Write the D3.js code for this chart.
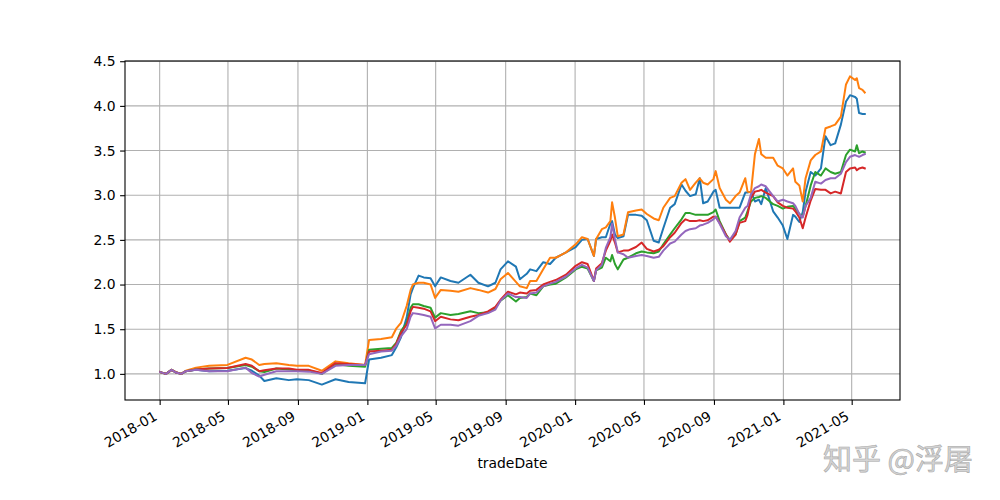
<!DOCTYPE html>
<html>
<head>
<meta charset="utf-8">
<script src="https://cdn.jsdelivr.net/npm/d3@7/dist/d3.min.js"></script>
<style>
  html, body { margin: 0; padding: 0; background: #fff; }
  svg { display: block; }
</style>
</head>
<body>
<svg id="chart" width="1000" height="500"></svg>
<script>
const dates = [
"2018-01-02","2018-01-12","2018-01-22","2018-01-30","2018-02-08","2018-02-16","2018-03-06","2018-03-29","2018-04-30","2018-06-01",
"2018-06-12","2018-06-25","2018-07-04","2018-07-25","2018-08-16","2018-08-30","2018-09-20","2018-10-13","2018-11-06","2018-11-29",
"2018-12-28","2019-01-04","2019-01-25","2019-02-13","2019-02-21","2019-03-01","2019-03-11","2019-03-18","2019-03-22","2019-04-01",
"2019-04-10","2019-04-22","2019-04-30","2019-05-10","2019-05-27","2019-06-10","2019-07-01","2019-07-15","2019-08-01","2019-08-14",
"2019-08-23","2019-09-05","2019-09-19","2019-09-26","2019-10-08","2019-10-14","2019-10-25","2019-11-06","2019-11-18","2019-11-28",
"2019-12-16","2020-01-02","2020-01-13","2020-01-23","2020-02-03","2020-02-07","2020-02-17","2020-02-24","2020-03-03","2020-03-06",
"2020-03-11","2020-03-16","2020-03-26","2020-04-03","2020-04-17","2020-04-27","2020-05-06","2020-05-18","2020-05-27","2020-06-04",
"2020-06-16","2020-06-24","2020-07-06","2020-07-13","2020-07-21","2020-07-31","2020-08-07","2020-08-13","2020-08-21","2020-08-31",
"2020-09-04","2020-09-11","2020-09-22","2020-09-29","2020-10-09","2020-10-16","2020-10-26","2020-10-30","2020-11-05","2020-11-12",
"2020-11-19","2020-11-23","2020-12-01","2020-12-14","2020-12-22","2020-12-31","2021-01-08","2021-01-18","2021-01-22","2021-01-29",
"2021-02-04","2021-02-09","2021-02-18","2021-02-26","2021-03-08","2021-03-16","2021-03-25","2021-04-02","2021-04-12","2021-04-21",
"2021-04-28","2021-05-07","2021-05-10","2021-05-14","2021-05-20","2021-05-24"
];

const seriesBlue = [
1.02,1.00,1.045,1.015,1.00,1.03,1.045,1.03,1.035,1.065,
1.035,0.98,0.92,0.95,0.93,0.94,0.93,0.88,0.94,0.91,
0.895,1.16,1.18,1.21,1.30,1.41,1.63,1.89,1.96,2.10,
2.08,2.07,1.98,2.08,2.04,2.02,2.11,2.02,1.98,2.02,
2.17,2.26,2.20,2.06,2.12,2.17,2.15,2.25,2.23,2.30,
2.36,2.42,2.50,2.51,2.32,2.51,2.53,2.53,2.68,2.71,
2.56,2.52,2.54,2.78,2.78,2.77,2.72,2.49,2.47,2.63,
2.86,2.90,3.12,3.05,2.99,3.01,3.19,2.91,2.93,3.04,
3.06,2.86,2.86,2.86,2.86,2.86,3.03,3.03,3.04,2.93,
2.95,2.90,3.08,2.82,2.75,2.66,2.51,2.78,2.76,2.70,
2.81,3.04,3.26,3.22,3.30,3.66,3.56,3.58,3.79,4.05,
4.12,4.10,4.08,3.92,3.91,3.91
];

const seriesOrange = [
1.02,1.00,1.045,1.02,1.00,1.035,1.07,1.09,1.10,1.18,
1.16,1.10,1.11,1.12,1.10,1.09,1.09,1.035,1.14,1.12,
1.10,1.38,1.39,1.41,1.51,1.57,1.76,1.94,2.00,2.02,
2.02,2.00,1.85,1.94,1.93,1.92,1.96,1.94,1.91,1.95,
2.06,2.13,2.03,1.98,1.96,2.04,2.04,2.17,2.30,2.30,
2.36,2.45,2.53,2.51,2.32,2.51,2.62,2.64,2.71,2.92,
2.75,2.54,2.56,2.81,2.83,2.84,2.79,2.74,2.72,2.86,
2.97,2.99,3.14,3.18,3.06,3.14,3.19,3.14,3.12,3.18,
3.27,3.08,2.95,2.91,2.99,3.03,3.19,3.04,3.03,3.46,
3.63,3.46,3.42,3.42,3.33,3.30,3.22,3.30,3.15,3.11,
2.93,3.19,3.39,3.45,3.49,3.75,3.77,3.79,3.88,4.24,
4.33,4.29,4.31,4.20,4.18,4.15
];

const seriesGreen = [
1.02,1.00,1.045,1.015,1.00,1.03,1.05,1.06,1.065,1.10,
1.08,1.03,1.02,1.06,1.05,1.04,1.04,1.00,1.11,1.09,
1.08,1.27,1.28,1.29,1.35,1.48,1.57,1.74,1.78,1.78,
1.76,1.74,1.63,1.68,1.66,1.67,1.70,1.68,1.69,1.74,
1.82,1.88,1.81,1.85,1.86,1.90,1.88,1.98,2.00,2.01,
2.08,2.17,2.20,2.18,2.04,2.16,2.19,2.30,2.26,2.33,
2.23,2.17,2.28,2.30,2.35,2.37,2.36,2.35,2.37,2.45,
2.56,2.63,2.73,2.80,2.80,2.78,2.78,2.78,2.78,2.81,
2.84,2.71,2.56,2.50,2.56,2.71,2.75,2.82,2.93,2.97,
2.98,2.99,2.97,2.90,2.88,2.85,2.87,2.88,2.85,2.79,
2.76,2.88,3.11,3.26,3.22,3.30,3.26,3.24,3.26,3.45,
3.51,3.49,3.56,3.47,3.49,3.48
];

const seriesRed = [
1.02,1.00,1.045,1.015,1.00,1.03,1.05,1.06,1.065,1.11,
1.09,1.03,1.04,1.06,1.06,1.045,1.045,1.01,1.12,1.11,
1.10,1.25,1.26,1.27,1.34,1.46,1.55,1.70,1.75,1.74,
1.73,1.70,1.59,1.64,1.61,1.60,1.64,1.66,1.70,1.75,
1.83,1.92,1.89,1.91,1.90,1.93,1.94,2.00,2.03,2.05,
2.11,2.21,2.25,2.23,2.04,2.18,2.24,2.38,2.49,2.56,
2.47,2.36,2.38,2.38,2.42,2.47,2.40,2.37,2.39,2.43,
2.53,2.58,2.69,2.73,2.71,2.71,2.72,2.71,2.72,2.76,
2.76,2.69,2.56,2.48,2.56,2.69,2.71,2.78,2.97,3.04,
3.05,3.06,3.03,2.99,2.92,2.88,2.86,2.85,2.82,2.75,
2.63,2.75,2.94,3.07,3.06,3.06,3.02,3.04,3.02,3.26,
3.30,3.31,3.28,3.30,3.31,3.30
];

const seriesPurple = [
1.02,1.00,1.045,1.015,1.00,1.03,1.045,1.03,1.03,1.07,
1.01,0.97,0.99,1.03,1.03,1.03,1.025,1.00,1.09,1.10,
1.10,1.22,1.25,1.26,1.32,1.42,1.50,1.64,1.68,1.67,
1.66,1.64,1.51,1.55,1.55,1.54,1.59,1.65,1.68,1.72,
1.82,1.90,1.86,1.86,1.85,1.90,1.91,1.98,2.01,2.03,
2.09,2.18,2.22,2.19,2.04,2.16,2.22,2.41,2.53,2.68,
2.51,2.36,2.34,2.30,2.32,2.33,2.32,2.30,2.31,2.38,
2.46,2.48,2.56,2.60,2.62,2.63,2.66,2.67,2.69,2.73,
2.76,2.68,2.54,2.50,2.60,2.75,2.86,2.88,3.01,3.08,
3.10,3.12,3.10,2.99,2.93,2.95,2.93,2.91,2.88,2.79,
2.75,2.88,2.97,3.15,3.13,3.17,3.19,3.19,3.24,3.37,
3.43,3.45,3.44,3.43,3.45,3.46
];

const seriesList = [seriesBlue, seriesOrange, seriesGreen, seriesRed, seriesPurple];
const colors = ["#1f77b4", "#ff7f0e", "#2ca02c", "#d62728", "#9467bd"];
const yTickValues = [1.0, 1.5, 2.0, 2.5, 3.0, 3.5, 4.0, 4.5];
const xTickLabels = ["2018-01","2018-05","2018-09","2019-01","2019-05","2019-09","2020-01","2020-05","2020-09","2021-01","2021-05"];
const xLabel = "tradeDate";
const watermark = "知乎 @浮屠";

const parse = d3.utcParse("%Y-%m-%d");
const parseMonth = d3.utcParse("%Y-%m");
const dateObjs = dates.map(parse);

const margin = { left: 125, right: 100, top: 61, bottom: 100 };
const W = 1000, H = 500;
const iw = W - margin.left - margin.right;
const ih = H - margin.top - margin.bottom;

const svg = d3.select("#chart");
svg.append("rect").attr("width", W).attr("height", H).attr("fill", "#fff");

// matplotlib-like 5% margins
const [xmin, xmax] = d3.extent(dateObjs).map(d => +d);
const xpad = (xmax - xmin) * 0.05;
const allVals = seriesList.flat();
const [ymin, ymax] = d3.extent(allVals);
const ypad = (ymax - ymin) * 0.05;

const x = d3.scaleUtc()
  .domain([new Date(xmin - xpad), new Date(xmax + xpad)])
  .range([margin.left, margin.left + iw]);
const y = d3.scaleLinear()
  .domain([ymin - ypad, ymax + ypad])
  .range([margin.top + ih, margin.top]);

const fontFamily = "'DejaVu Sans', sans-serif";
const fs = 13.9;

const xTicks = xTickLabels.map(parseMonth);

// grid
const grid = svg.append("g");
grid.selectAll(".gx").data(xTicks).enter().append("line")
  .attr("x1", d => x(d)).attr("x2", d => x(d))
  .attr("y1", margin.top).attr("y2", margin.top + ih)
  .attr("stroke", "#b0b0b0").attr("stroke-width", 1.1);
grid.selectAll(".gy").data(yTickValues).enter().append("line")
  .attr("x1", margin.left).attr("x2", margin.left + iw)
  .attr("y1", d => y(d)).attr("y2", d => y(d))
  .attr("stroke", "#b0b0b0").attr("stroke-width", 1.1);

// lines
const clipId = "plotclip";
svg.append("clipPath").attr("id", clipId).append("rect")
  .attr("x", margin.left).attr("y", margin.top).attr("width", iw).attr("height", ih);

const line = d3.line()
  .x((d, i) => x(dateObjs[i]))
  .y(d => y(d));

const lg = svg.append("g").attr("clip-path", `url(#${clipId})`);
seriesList.forEach((s, k) => {
  lg.append("path")
    .attr("d", line(s))
    .attr("fill", "none")
    .attr("stroke", colors[k])
    .attr("stroke-width", 2)
    .attr("stroke-linejoin", "round")
    .attr("stroke-linecap", "square");
});

// spines
svg.append("rect")
  .attr("x", margin.left).attr("y", margin.top)
  .attr("width", iw).attr("height", ih)
  .attr("fill", "none").attr("stroke", "#000").attr("stroke-width", 1.1);

// y axis
const yAxis = d3.axisLeft(y).tickValues(yTickValues).tickFormat(d3.format(".1f"))
  .tickSize(4.9).tickPadding(4.5);
const yg = svg.append("g").attr("transform", `translate(${margin.left},0)`).call(yAxis);
yg.select(".domain").remove();
yg.selectAll(".tick line").attr("stroke", "#000").attr("stroke-width", 1.1);
yg.selectAll(".tick text").attr("font-family", fontFamily).attr("font-size", fs).attr("fill", "#000");

// x axis
const xAxis = d3.axisBottom(x).tickValues(xTicks).tickFormat(d3.utcFormat("%Y-%m"))
  .tickSize(4.9);
const xg = svg.append("g").attr("transform", `translate(0,${margin.top + ih})`).call(xAxis);
xg.select(".domain").remove();
xg.selectAll(".tick line").attr("stroke", "#000").attr("stroke-width", 1.1);
xg.selectAll(".tick text")
  .attr("font-family", fontFamily).attr("font-size", fs).attr("fill", "#000")
  .attr("text-anchor", "end")
  .attr("dy", null)
  .attr("y", 0)
  .attr("transform", "translate(-2,19) rotate(-30)");

// x label
svg.append("text")
  .attr("x", margin.left + iw / 2).attr("y", 468)
  .attr("text-anchor", "middle")
  .attr("font-family", fontFamily).attr("font-size", fs).attr("fill", "#000")
  .text(xLabel);

// watermark
svg.append("text")
  .attr("x", 973).attr("y", 470)
  .attr("text-anchor", "end")
  .attr("font-family", "'Noto Sans CJK SC', sans-serif")
  .attr("font-size", 29)
  .attr("fill", "#d4d4d4")
  .attr("stroke", "#a8a8a8").attr("stroke-width", 0.6)
  .text(watermark);
</script>
</body>
</html>
